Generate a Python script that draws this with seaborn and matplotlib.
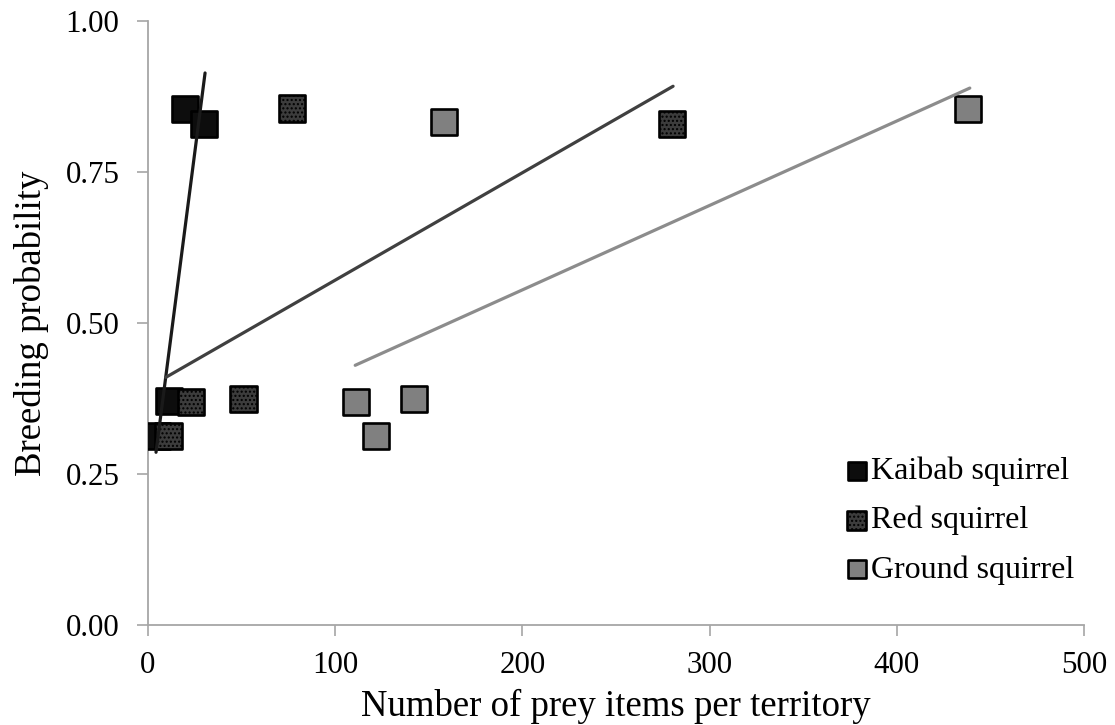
import pandas as pd
import matplotlib
matplotlib.use("Agg")
import matplotlib.pyplot as plt
import seaborn as sns

sns.set_style("ticks")
plt.rcParams['font.family'] = ['Liberation Serif', 'DejaVu Serif']
plt.rcParams['text.color'] = 'black'
plt.rcParams['axes.labelcolor'] = 'black'
plt.rcParams['xtick.labelcolor'] = 'black'
plt.rcParams['ytick.labelcolor'] = 'black'
plt.rcParams['hatch.color'] = '#c8c8c8'
plt.rcParams['hatch.linewidth'] = 1.0

# prey items per territory vs breeding probability
kaibab_x = [5, 11, 20, 30]
kaibab_y = [0.3125, 0.371, 0.855, 0.83]
red_x = [11, 23, 51, 77, 280]
red_y = [0.3125, 0.369, 0.374, 0.855, 0.83]
ground_x = [111, 122, 142, 158, 438]
ground_y = [0.369, 0.3125, 0.374, 0.832, 0.855]

# trend lines (start, end)
kaibab_fit_x = [4.3, 30.5]
kaibab_fit_y = [0.286, 0.914]
red_fit_x = [9.5, 280.5]
red_fit_y = [0.410, 0.892]
ground_fit_x = [110.7, 439]
ground_fit_y = [0.430, 0.889]

fig = plt.figure(figsize=(11.15, 7.25), dpi=100)
ax = fig.add_axes([0.1327, 0.1379, 0.8395, 0.8331])

mk = dict(marker="s", s=360, linewidth=1.9, edgecolor="black", zorder=3)
sns.scatterplot(x=kaibab_x, y=kaibab_y, color="#0d0d0d", label="Kaibab squirrel", ax=ax, **mk)
sns.scatterplot(x=red_x, y=red_y, color="#3c3c3c", hatch="....", label="Red squirrel", ax=ax, **mk)
sns.scatterplot(x=ground_x, y=ground_y, color="#808080", label="Ground squirrel", ax=ax, **mk)

sns.lineplot(x=kaibab_fit_x, y=kaibab_fit_y, color="#1a1a1a", linewidth=2.3, ax=ax, zorder=4)
sns.lineplot(x=red_fit_x, y=red_fit_y, color="#404040", linewidth=2.3, ax=ax, zorder=4)
sns.lineplot(x=ground_fit_x, y=ground_fit_y, color="#8c8c8c", linewidth=2.3, ax=ax, zorder=4)

ax.set_xlim(0, 500)
ax.set_ylim(0, 1)
ax.set_xticks([0, 100, 200, 300, 400, 500])
ax.set_yticks([0, 0.25, 0.5, 0.75, 1.0])
ax.set_yticklabels(["0.00", "0.25", "0.50", "0.75", "1.00"])
ax.tick_params(labelsize=22.3, length=8, width=1.2, color="#a6a6a6")
ax.tick_params(axis="y", pad=12.5)
ax.tick_params(axis="x", pad=11)
for side in ["top", "right"]:
    ax.spines[side].set_visible(False)
for side in ["left", "bottom"]:
    ax.spines[side].set_color("#a6a6a6")
    ax.spines[side].set_linewidth(1.3)

ax.set_xlabel("Number of prey items per territory", fontsize=26.5, labelpad=6)
ax.set_ylabel("Breeding probability", fontsize=26.5, labelpad=12)

leg = ax.legend(loc="lower right", bbox_to_anchor=(1.01, 0.035), frameon=False,
                fontsize=23, markerscale=0.72, handletextpad=-0.55,
                labelspacing=0.62, borderaxespad=0.2)

fig.savefig("out.png", dpi=100)
